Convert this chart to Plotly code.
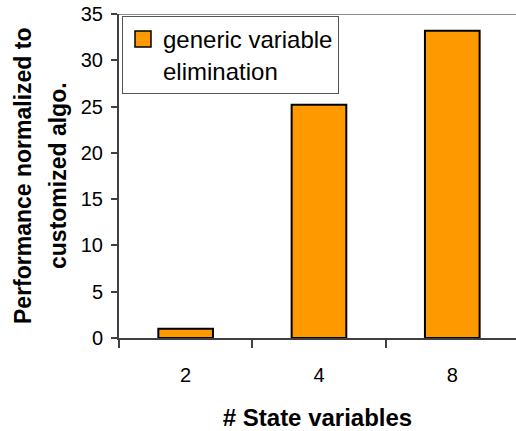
import plotly.graph_objects as go

# Data
categories = ["2", "4", "8"]
values = [1.0, 25.2, 33.2]
series_name = "generic variable<br>elimination"
y_ticks = [0, 5, 10, 15, 20, 25, 30, 35]

FONT = "Liberation Sans, Arial, sans-serif"
ORANGE = "#FF9900"
AXIS = "#404040"

fig = go.Figure()

fig.add_trace(go.Bar(
    x=categories,
    y=values,
    width=0.41,
    marker=dict(color=ORANGE, line=dict(color="black", width=2)),
    showlegend=False,
))

# legend swatch (square key)
fig.add_trace(go.Scatter(
    x=[None], y=[None],
    mode="markers",
    name=series_name,
    marker=dict(symbol="square", size=16, color=ORANGE,
                line=dict(color="black", width=1.5)),
))

# plot-area top border
fig.add_shape(type="line", xref="paper", yref="y",
              x0=0, x1=1, y0=35, y1=35,
              line=dict(color="#8c8c8c", width=2))

fig.update_layout(
    width=516, height=431,
    margin=dict(l=119, r=0, t=14, b=93),
    paper_bgcolor="white", plot_bgcolor="white",
    font=dict(family=FONT, color="black", size=19),
    showlegend=True,
    legend=dict(
        x=3 / 397, y=0.994, xanchor="left", yanchor="top",
        bgcolor="white", bordercolor="#555555", borderwidth=1,
        font=dict(family=FONT, size=24, color="black"),
        itemsizing="trace", valign="top",
    ),
    xaxis=dict(
        type="category",
        range=[-0.5, 2.478],
        showline=True, linecolor=AXIS, linewidth=2,
        ticks="outside", tickson="boundaries", ticklen=8,
        tickcolor=AXIS, tickwidth=2,
        tickfont=dict(size=20),
        ticklabelstandoff=18,
        title=dict(text="<b># State variables</b>",
                   font=dict(size=24), standoff=24),
        showgrid=False, zeroline=False,
    ),
    yaxis=dict(
        range=[0, 35],
        tickvals=y_ticks,
        showline=True, linecolor=AXIS, linewidth=2,
        ticks="outside", ticklen=6, tickcolor=AXIS, tickwidth=2,
        tickfont=dict(size=20),
        ticklabelstandoff=4,
        showgrid=False, zeroline=False,
    ),
    annotations=[
        dict(text="<b>Performance normalized to</b>", textangle=-90,
             xref="paper", yref="paper", x=-119 / 397 + 23 / 397, y=0.5,
             xanchor="center", yanchor="middle", showarrow=False,
             font=dict(size=23)),
        dict(text="<b>customized algo.</b>", textangle=-90,
             xref="paper", yref="paper", x=-119 / 397 + 58 / 397, y=0.5,
             xanchor="center", yanchor="middle", showarrow=False,
             font=dict(size=23)),
    ],
)

fig.write_html("out.html")
